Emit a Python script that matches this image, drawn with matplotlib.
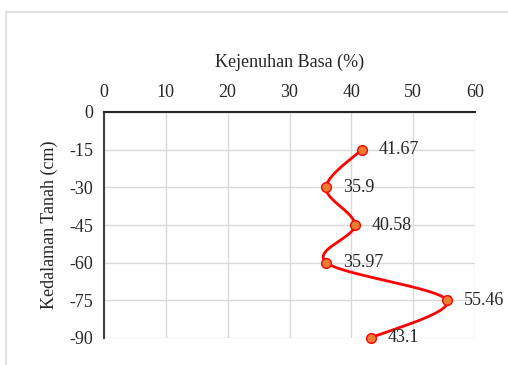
import numpy as np
import matplotlib
matplotlib.use("Agg")
import matplotlib.pyplot as plt
from matplotlib.patches import Rectangle

# data
kejenuhan = [41.67, 35.9, 40.58, 35.97, 55.46, 43.1]
kedalaman = [-15, -30, -45, -60, -75, -90]
labels    = ["41.67", "35.9", "40.58", "35.97", "55.46", "43.1"]
x_ticks   = [0, 10, 20, 30, 40, 50, 60]
y_ticks   = [0, -15, -30, -45, -60, -75, -90]

plt.rcParams["font.family"] = ["Liberation Serif", "DejaVu Serif"]
plt.rcParams["axes.unicode_minus"] = False


def smooth(xs, ys, n=30):
    """Catmull-Rom style smoothing, like Excel's smoothed line."""
    p = np.column_stack([xs, ys]).astype(float)
    p = np.vstack([p[0], p, p[-1]])
    out = []
    t = np.linspace(0, 1, n)[:, None]
    for i in range(1, len(p) - 2):
        p0, p1, p2, p3 = p[i - 1], p[i], p[i + 1], p[i + 2]
        seg = 0.5 * ((2 * p1) + (-p0 + p2) * t
                     + (2 * p0 - 5 * p1 + 4 * p2 - p3) * t ** 2
                     + (-p0 + 3 * p1 - 3 * p2 + p3) * t ** 3)
        out.append(seg if i == 1 else seg[1:])
    c = np.vstack(out)
    return c[:, 0], c[:, 1]


fig = plt.figure(figsize=(5.08, 3.65), dpi=100)
fig.patch.set_facecolor("white")
fig.patches.append(Rectangle((6 / 508, -0.1), 1.2, 1 - 12 / 365 + 0.1,
                             transform=fig.transFigure, fill=False,
                             edgecolor="#d9d9d9", linewidth=1.2))

ax = fig.add_axes([104 / 508, 1 - 338 / 365, (475 - 104) / 508, (338 - 112) / 365])

sx, sy = smooth(kejenuhan, kedalaman)
ax.plot(sx, sy, color="#ff0000", linewidth=2.0, zorder=3, clip_on=False)
ax.plot(kejenuhan, kedalaman, linestyle="none", marker="o", markersize=7,
        markerfacecolor="#ed7d31", markeredgecolor="#ff0000",
        markeredgewidth=1.0, zorder=4, clip_on=False)

for x, y, lab in zip(kejenuhan, kedalaman, labels):
    ax.annotate(lab, (x, y), xytext=(12, 0), textcoords="offset points",
                ha="left", va="center", fontsize=13, color="#262626")

ax.set_xlim(0, 60)
ax.set_ylim(-90, 0)
ax.set_xticks(x_ticks)
ax.set_yticks(y_ticks)
ax.xaxis.tick_top()
ax.xaxis.set_label_position("top")
ax.tick_params(length=0, labelsize=13, colors="#262626", pad=8)
ax.grid(True, color="#d9d9d9", linewidth=1.0)
ax.set_axisbelow(True)

for s in ("right", "bottom"):
    ax.spines[s].set_visible(False)
ax.spines["top"].set_color("#262626")
ax.spines["top"].set_linewidth(1.5)
ax.spines["left"].set_color("#404040")
ax.spines["left"].set_linewidth(1.5)

ax.set_xlabel("Kejenuhan Basa (%)", fontsize=13, color="#262626", labelpad=12)
ax.set_ylabel("Kedalaman Tanah (cm)", fontsize=13, color="#262626", labelpad=8)

fig.savefig("out.png", dpi=100)
